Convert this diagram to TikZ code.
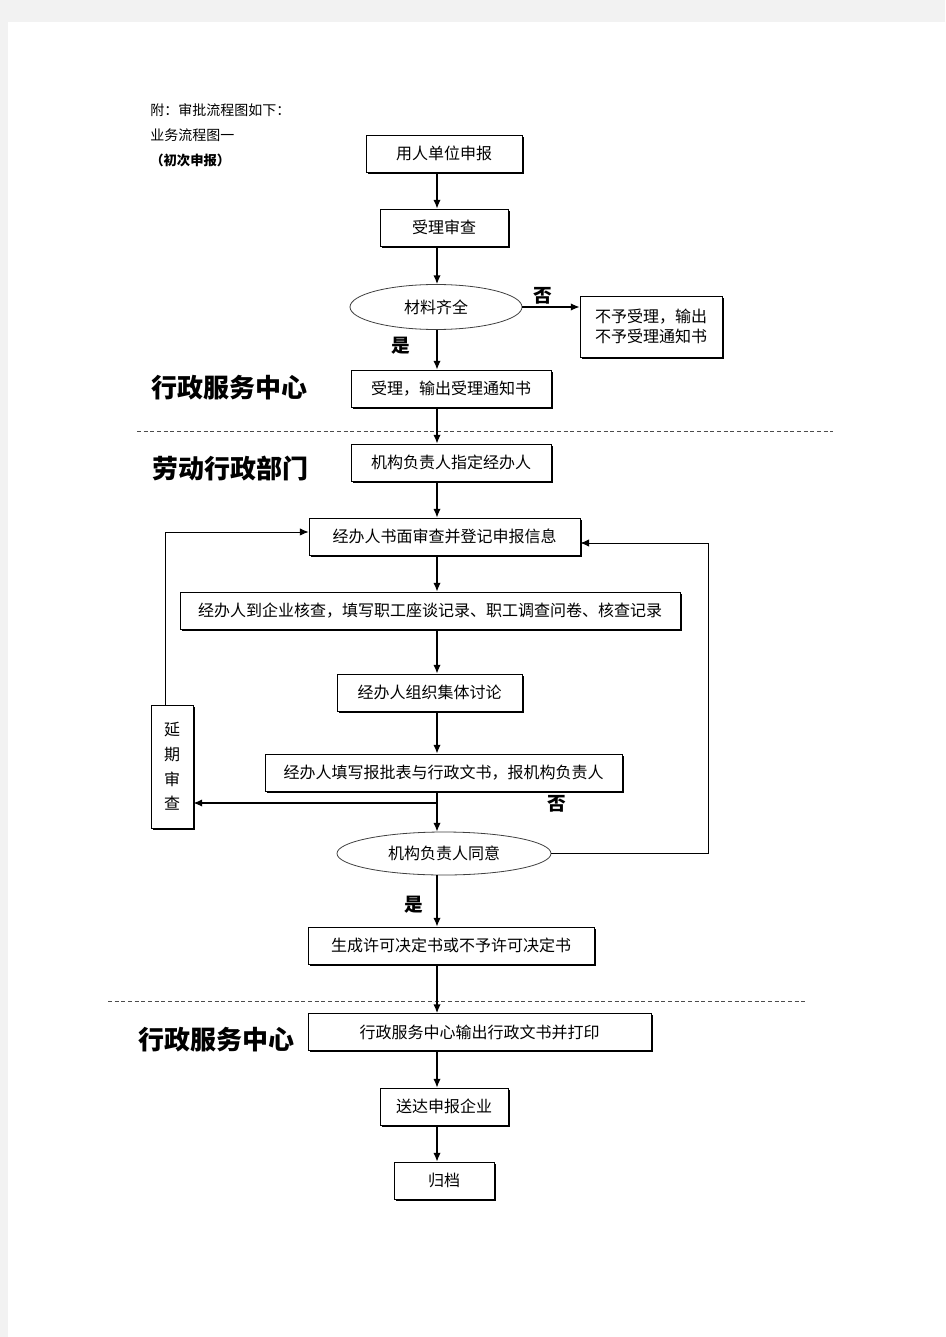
\documentclass[tikz,border=0pt]{standalone}
\usepackage{fontspec}
\setmainfont{Noto Sans CJK SC}
\usetikzlibrary{arrows.meta, shapes.geometric, shadows}

\begin{document}
\begin{tikzpicture}[x=0.75pt, y=-0.75pt]

% Define styles
\tikzstyle{block} = [rectangle, draw=black, line width=0.6pt, fill=white,
    minimum height=27.75pt, inner sep=2pt, font=\fontsize{12}{15}\selectfont,
    drop shadow={shadow xshift=1.3pt, shadow yshift=-1.3pt, fill=black, opacity=1}]
\tikzstyle{decision} = [ellipse, draw=black!75, line width=0.6pt, fill=white,
    inner sep=0pt, font=\fontsize{12}{15}\selectfont]
\tikzstyle{line} = [draw, line width=1pt, -{Latex[length=6.5pt, width=5.5pt]}]
\tikzstyle{backline} = [draw, line width=0.7pt, -{Latex[length=6.5pt, width=5.5pt]}]
\tikzstyle{divider} = [draw=black!70, line width=0.6pt, dash pattern=on 3pt off 2pt]
\tikzstyle{dept} = [font=\fontsize{19.5}{22}\selectfont\bfseries]
\tikzstyle{yesno} = [font=\fontsize{14}{16}\selectfont\bfseries]
\tikzstyle{note} = [anchor=west, inner sep=0pt, font=\fontsize{10.5}{12}\selectfont]

% Page
\fill[black!5] (0,0) rectangle (945,1337);
\fill[white] (8,22) rectangle (945,1337);
\useasboundingbox (0,0) rectangle (945,1337);

% Heading notes
\node [note] (head) at (150,110) {附：审批流程图如下：};
\node [note] (sub) at (150,135) {业务流程图一};
\node [note, font=\fontsize{10}{12}\selectfont\bfseries] (first) at (150,160) {（初次申报）};

% Place nodes
\coordinate (spine) at (437,0);
\node [block, minimum width=117pt] (apply) at (444,153.5) {用人单位申报};
\node [block, minimum width=96pt] (check) at (444,227.5) {受理审查};
\node [decision, minimum width=129pt, minimum height=33.75pt] (complete) at (436,307) {材料齐全};
\node [block, minimum width=106.5pt, minimum height=45.75pt, align=center] (reject) at (651,326.5) {不予受理，输出\\不予受理通知书};
\node [block, minimum width=150pt] (accept) at (451,388.5) {受理，输出受理通知书};
\node [block, minimum width=150pt] (assign) at (451,462.5) {机构负责人指定经办人};
\node [block, minimum width=203.25pt] (review) at (444.5,536.5) {经办人书面审查并登记申报信息};
\node [block, minimum width=375pt] (visit) at (430,610.5) {经办人到企业核查，填写职工座谈记录、职工调查问卷、核查记录};
\node [block, minimum width=138.75pt] (discuss) at (429.5,692.5) {经办人组织集体讨论};
\node [block, minimum width=267.75pt] (report) at (443.5,772.5) {经办人填写报批表与行政文书，报机构负责人};
\node [block, minimum width=31.5pt, minimum height=92.25pt, align=center,
    font=\fontsize{12}{18.5}\selectfont] (delay) at (172,766.5) {延\\期\\审\\查};
\node [decision, minimum width=160.5pt, minimum height=32.25pt] (agree) at (444,853.5) {机构负责人同意};
\node [block, minimum width=214.5pt] (decide) at (451,945.5) {生成许可决定书或不予许可决定书};
\node [block, minimum width=257.25pt] (print) at (479.5,1032) {行政服务中心输出行政文书并打印};
\node [block, minimum width=96pt] (deliver) at (444,1106.5) {送达申报企业};
\node [block, minimum width=75pt] (archive) at (444,1180.5) {归档};

% Department labels
\node [dept] (center1) at (229,388) {行政服务中心};
\node [dept] (labour) at (230,469) {劳动行政部门};
\node [dept] (center2) at (216,1040) {行政服务中心};

% Dividers
\path [divider] (137,431) -- (833,431);
\path [divider] (108,1001) -- (805,1001);

% Draw edges
\path [line] (apply.south -| spine) -- (check.north -| spine);
\path [line] (check.south -| spine) -- (complete.north -| spine);
\path [line] (complete.east) -- (complete.east -| reject.west);
\path [line] (complete.south -| spine) -- (accept.north -| spine);
\path [line] (accept.south -| spine) -- (assign.north -| spine);
\path [line] (assign.south -| spine) -- (review.north -| spine);
\path [line] (review.south -| spine) -- (visit.north -| spine);
\path [line] (visit.south -| spine) -- (discuss.north -| spine);
\path [line] (discuss.south -| spine) -- (report.north -| spine);
\coordinate (fork) at (437,803);
\path [line] (report.south -| spine) -- (agree.north -| spine);
\path [line] (fork) -- (fork -| delay.east);
\path [backline] ([xshift=-5pt]delay.north) |- ([yshift=3.4pt]review.west);
\coordinate (back) at (708,543);
\path [backline] (agree.east) -| (back) -- (back -| review.east);
\path [line] (agree.south -| spine) -- (decide.north -| spine);
\path [line] (decide.south -| spine) -- (print.north -| spine);
\path [line] (print.south -| spine) -- (deliver.north -| spine);
\path [line] (deliver.south -| spine) -- (archive.north -| spine);

% Yes / no marks
\node [yesno] (no1) at (543,296) {否};
\node [yesno] (yes1) at (401,346) {是};
\node [yesno] (no2) at (557,804) {否};
\node [yesno] (yes2) at (414,905) {是};

\end{tikzpicture}
\end{document}
